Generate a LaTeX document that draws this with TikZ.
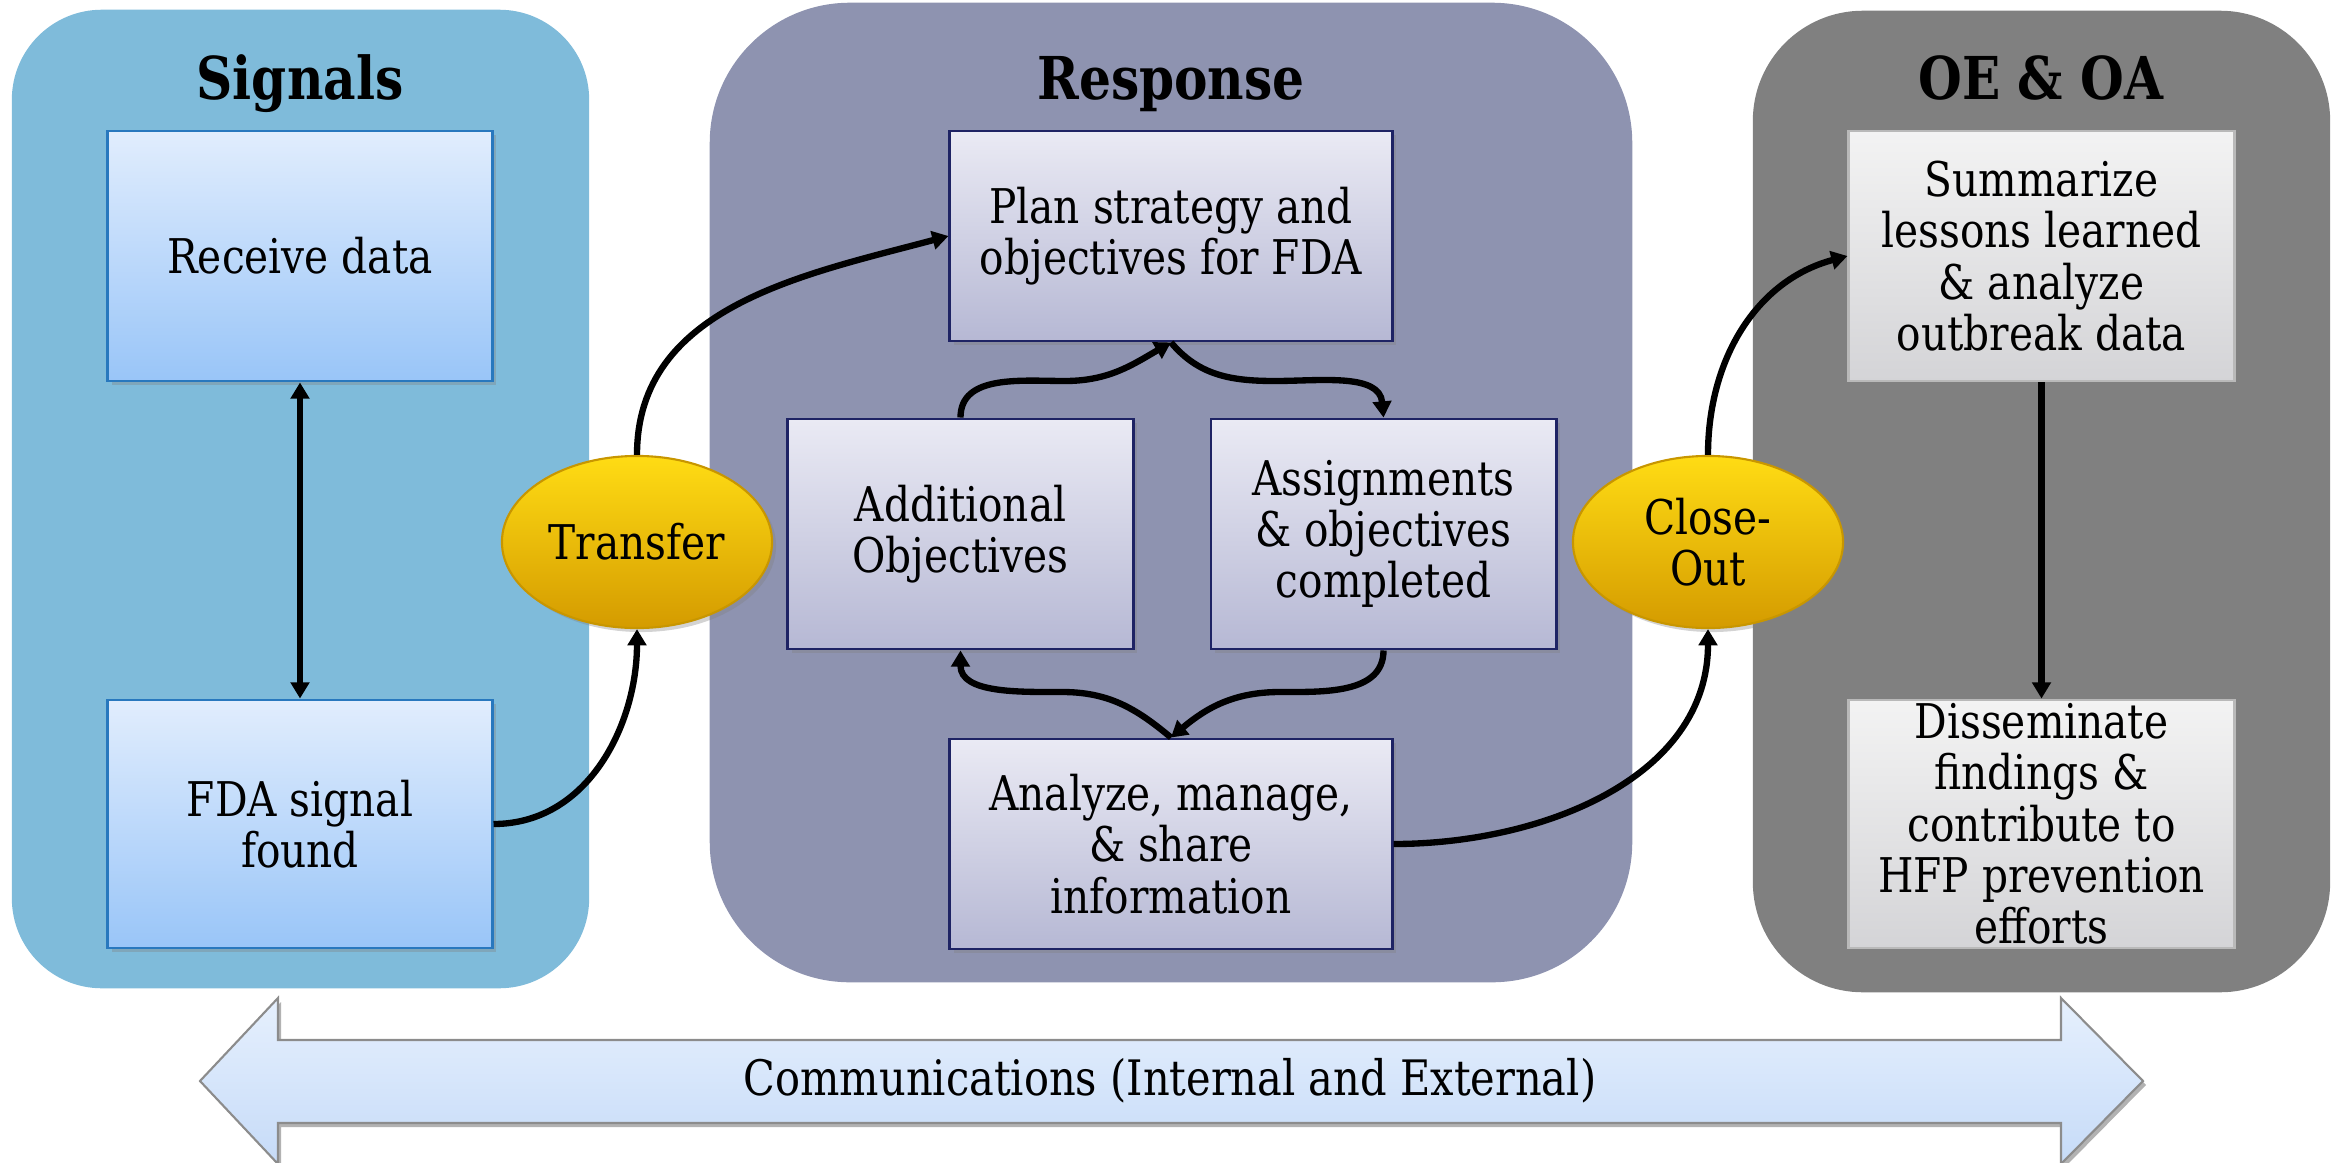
\documentclass[tikz,border=0pt]{standalone}
\usepackage{fontspec}
\setmainfont{DejaVu Serif}[FakeStretch=0.85]
\usetikzlibrary{shapes.geometric,arrows.meta,shadows}
\definecolor{sigbg}{RGB}{127,187,218}
\definecolor{resbg}{RGB}{142,147,176}
\definecolor{oebg}{RGB}{128,128,128}
\definecolor{bluetop}{RGB}{225,237,253}
\definecolor{bluebot}{RGB}{153,197,248}
\definecolor{blueline}{RGB}{40,120,190}
\definecolor{purtop}{RGB}{234,234,244}
\definecolor{purbot}{RGB}{182,184,212}
\definecolor{purline}{RGB}{30,35,100}
\definecolor{graytop}{RGB}{243,243,243}
\definecolor{graybot}{RGB}{212,212,215}
\definecolor{grayline}{RGB}{185,185,185}
\definecolor{goldtop}{RGB}{255,220,20}
\definecolor{goldmid}{RGB}{252,194,0}
\definecolor{goldbot}{RGB}{212,155,0}
\definecolor{goldline}{RGB}{200,150,0}
\definecolor{comtop}{RGB}{230,240,253}
\definecolor{combot}{RGB}{198,219,248}
\definecolor{comline}{RGB}{140,140,140}
\begin{document}
\begin{tikzpicture}[x=0.01cm,y=0.01cm,
  every node/.style={font=\fontsize{13.6}{14.6}\selectfont, align=center, inner sep=0pt},
  paneltitle/.style={font=\fontsize{16.8}{20}\selectfont\bfseries, anchor=base},
  panel/.style={rounded corners=#1, draw=none},
  boxshadow/.style={drop shadow={opacity=0.35,shadow xshift=0.04cm,shadow yshift=-0.04cm}},
  bluebox/.style={draw=blueline, line width=0.8pt, top color=bluetop, bottom color=bluebot, boxshadow},
  purbox/.style={draw=purline, line width=0.8pt, top color=purtop, bottom color=purbot, boxshadow},
  graybox/.style={draw=grayline, line width=0.8pt, top color=graytop, bottom color=graybot, boxshadow},
  gold/.style={ellipse, draw=goldline, line width=0.6pt, top color=goldtop, middle color=goldmid, bottom color=goldbot,
     minimum width=2.7cm, minimum height=1.72cm, boxshadow},
  conn/.style={line width=1.8pt, -{Triangle[length=4.6pt,width=5.2pt]}},
  biconn/.style={line width=1.8pt, {Triangle[length=4.6pt,width=5.2pt]}-{Triangle[length=4.6pt,width=5.2pt]}}
]
\useasboundingbox (0,0) rectangle (2341,1162);
\clip (0,0) rectangle (2341,1162);
% panels
\node[panel=0.9cm, fill=sigbg, minimum width=5.77cm, minimum height=9.78cm] (sigpanel) at (300.5,663) {};
\node[panel=1.4cm, fill=resbg, minimum width=9.22cm, minimum height=9.79cm] (respanel) at (1171,669.5) {};
\node[panel=1.1cm, fill=oebg, minimum width=5.77cm, minimum height=9.81cm] (oepanel) at (2041.5,660.5) {};
% titles
\node[paneltitle] (sigtitle) at (300,1063) {Signals};
\node[paneltitle] (restitle) at (1171,1063) {Response};
\node[paneltitle] (oetitle) at (2041,1063) {OE \& OA};
% signals boxes
\node[bluebox, minimum width=3.84cm, minimum height=2.5cm] (receive) at (300,906) {Receive data};
\node[bluebox, minimum width=3.84cm, minimum height=2.48cm] (fda) at (300,338) {FDA signal\\found};
% ellipses
\node[gold] (transfer) at (637,620) {Transfer};
\node[gold] (closeout) at (1708,620) {Close-\\Out};
% response boxes
\node[purbox, minimum width=4.42cm, minimum height=2.1cm] (plan) at (1171,926) {Plan strategy and\\objectives for FDA};
\node[purbox, minimum width=3.45cm, minimum height=2.3cm] (addl) at (960.5,628) {Additional\\Objectives};
\node[purbox, minimum width=3.45cm, minimum height=2.3cm] (assign) at (1383.5,628) {Assignments\\\& objectives\\completed};
\node[purbox, minimum width=4.42cm, minimum height=2.1cm] (analyze) at (1171,318) {Analyze, manage,\\\& share\\information};
% OE boxes
\node[graybox, minimum width=3.85cm, minimum height=2.5cm] (summ) at (2041.5,906) {Summarize\\lessons learned\\\& analyze\\outbreak data};
\node[graybox, minimum width=3.85cm, minimum height=2.48cm] (dissem) at (2041.5,338) {Disseminate\\findings \&\\contribute to\\HFP prevention\\efforts};
% connectors
\draw[biconn] (receive.south) -- (fda.north);
\draw[conn] (fda.east) to[out=0,in=-90] (transfer.south);
\draw[conn] (transfer.north) to[out=90,in=195] (plan.west);
\coordinate (bt1) at (1065,781);
\coordinate (bt2) at (1275,781);
\coordinate (bb1) at (1280,470);
\coordinate (bb2) at (1062,470);
\draw[conn] (addl.north) to[out=90,in=180] (bt1) to[out=0,in=210] (plan.south);
\draw[conn] (plan.south) to[out=-50,in=180] (bt2) to[out=0,in=95] (assign.north);
\draw[conn] (assign.south) to[out=-90,in=0] (bb1) to[out=180,in=40] (analyze.north);
\draw[conn] (analyze.north) to[out=140,in=0] (bb2) to[out=180,in=-90] (addl.south);
\draw[conn] (analyze.east) to[out=0,in=-90] (closeout.south);
\draw[conn] (closeout.north) to[out=90,in=195] (summ.west);
\draw[conn] (summ.south) -- (dissem.north);
% communications arrow
\fill[black, opacity=0.3] (203,77) -- (281,160) -- (281,118) -- (2064,118) -- (2064,160) -- (2146,77) -- (2064,-6) -- (2064,35) -- (281,35) -- (281,-6) -- cycle;
\draw[comline, line width=0.6pt, top color=comtop, bottom color=combot]
  (200,81) -- (278,164) -- (278,122) -- (2061,122) -- (2061,164) -- (2143,81) -- (2061,-2) -- (2061,39) -- (278,39) -- (278,-2) -- cycle;
\node[font=\fontsize{13.9}{15}\selectfont] (comm) at (1170,81) {Communications (Internal and External)};
\end{tikzpicture}
\end{document}
